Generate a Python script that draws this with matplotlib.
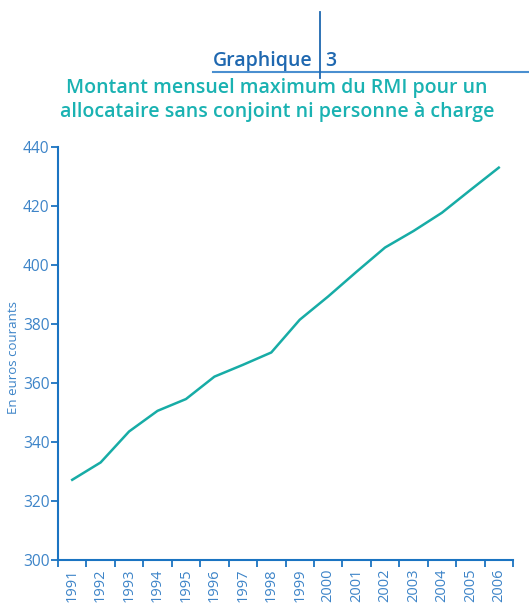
import matplotlib.pyplot as plt
from matplotlib.lines import Line2D

plt.rcParams['font.family'] = ['Open Sans', 'DejaVu Sans']

annees = ['1991', '1992', '1993', '1994', '1995', '1996', '1997', '1998',
          '1999', '2000', '2001', '2002', '2003', '2004', '2005', '2006']
montant = [327.2, 333.1, 343.6, 350.6, 354.6, 362.2, 366.2, 370.4,
           381.5, 389.4, 397.8, 406.0, 411.6, 417.8, 425.5, 433.1]
y_ticks = [300, 320, 340, 360, 380, 400, 420, 440]

bleu_axe = '#1b74c2'
bleu_txt = '#3d84c8'
bleu_fonce = '#1f68b0'
turquoise = '#17aca6'
titre_col = '#1ab2b2'

fig = plt.figure(figsize=(5.29, 6.07), dpi=100)
ax = fig.add_axes([58 / 529, 1 - 560 / 607, (513 - 58) / 529, (560 - 147.3) / 607])

x = list(range(len(annees)))
ax.plot(x, montant, color=turquoise, lw=1.8)

ax.set_xlim(-0.5, len(annees) - 0.5)
ax.set_ylim(300, 440)
ax.set_yticks(y_ticks)
ax.set_xticks([i - 0.5 for i in range(len(annees) + 1)])
ax.set_xticklabels([])
ax.set_xticks(x, minor=True)
ax.set_xticklabels(annees, minor=True, rotation=90)
ax.tick_params(axis='x', which='minor', length=0, pad=6, labelsize=10.5, labelcolor=bleu_txt)
ax.tick_params(axis='x', which='major', length=5, width=1.3, color=bleu_axe, direction='out')
ax.tick_params(axis='y', length=5, width=1.3, color=bleu_axe, labelsize=11.2, labelcolor=bleu_txt, pad=1)

for s in ['top', 'right']:
    ax.spines[s].set_visible(False)
for s in ['left', 'bottom']:
    ax.spines[s].set_color(bleu_axe)
    ax.spines[s].set_linewidth(1.5)

fig.text(14 / 529, 1 - 358 / 607, 'En euros courants', rotation=90, ha='center', va='center',
         fontsize=9.5, color=bleu_txt)

# bandeau du titre
fig.add_artist(Line2D([213 / 529, 1.0], [1 - 72 / 607, 1 - 72 / 607], color='#4a8fd0', lw=1.5))
fig.add_artist(Line2D([320 / 529, 320 / 529], [1 - 12 / 607, 1 - 78 / 607], color=bleu_fonce, lw=1.3))
fig.text(313 / 529, 1 - 66 / 607, 'Graphique', ha='right', va='baseline', fontsize=14,
         fontweight='semibold', color=bleu_fonce)
fig.text(325 / 529, 1 - 66 / 607, '3', ha='left', va='baseline', fontsize=14,
         fontweight='semibold', color=bleu_fonce)
fig.text(277 / 529, 1 - 100 / 607, 'Montant mensuel maximum du RMI pour un\n'
         'allocataire sans conjoint ni personne à charge', ha='center', va='center',
         fontsize=14, fontweight='semibold', color=titre_col, linespacing=1.32)

fig.savefig('out.png', dpi=100)
